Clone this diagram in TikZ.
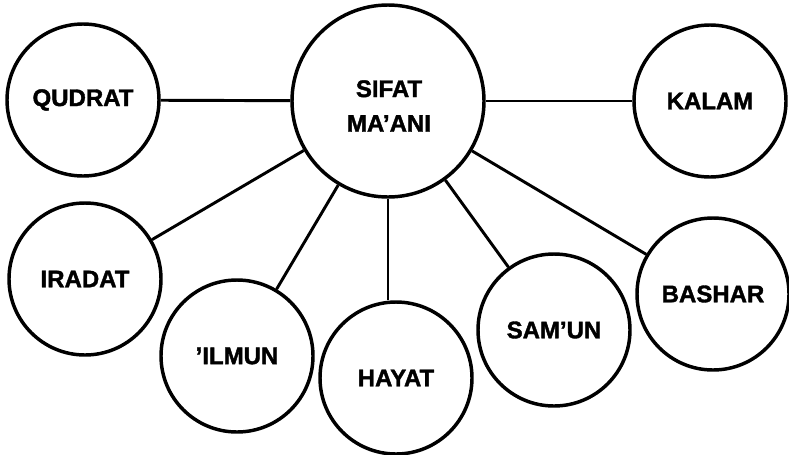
\documentclass[tikz,border=0pt]{standalone}
\usepackage{fontspec}
\setmainfont{Liberation Sans}[BoldFeatures={FakeBold=1.6}]
\begin{document}
\begin{tikzpicture}[x=0.75pt,y=-0.75pt,
  attr/.style={draw,circle,line width=2.6pt,minimum size=114pt,inner sep=0pt,
    font=\fontsize{18}{25}\selectfont\bfseries,align=center},
  core/.style={attr,minimum size=144pt},
  link/.style={line width=2.2pt}]
\useasboundingbox (0,0) rectangle (789,454);
% central attribute
\node[core] (sifat) at (388,101) {};
\node[font=\fontsize{18}{25}\selectfont\bfseries,align=center] (sifattext)
  at (389,106) {SIFAT\\[1pt]MA'ANI};
% surrounding attributes
\node[attr] (qudrat) at (83,100)  {QUDRAT};
\node[attr] (kalam)  at (710,101) {KALAM};
\node[attr] (iradat) at (85,279)  {IRADAT};
\node[attr] (ilmun)  at (237,356) {'ILMUN};
\node[attr] (hayat)  at (396,378) {HAYAT};
\node[attr] (samun)  at (554,330) {SAM'UN};
\node[attr] (bashar) at (713,294) {BASHAR};
% connectors
\draw[link] (sifat) -- (qudrat);
\draw[link] (sifat) -- (kalam);
\draw[link] (sifat) -- (iradat);
\draw[link] (sifat) -- (ilmun);
\draw[link] (sifat.south) -- (sifat.south |- hayat.north);
\draw[link] (sifat) -- (samun);
\draw[link] (sifat) -- (bashar);
\end{tikzpicture}
\end{document}
